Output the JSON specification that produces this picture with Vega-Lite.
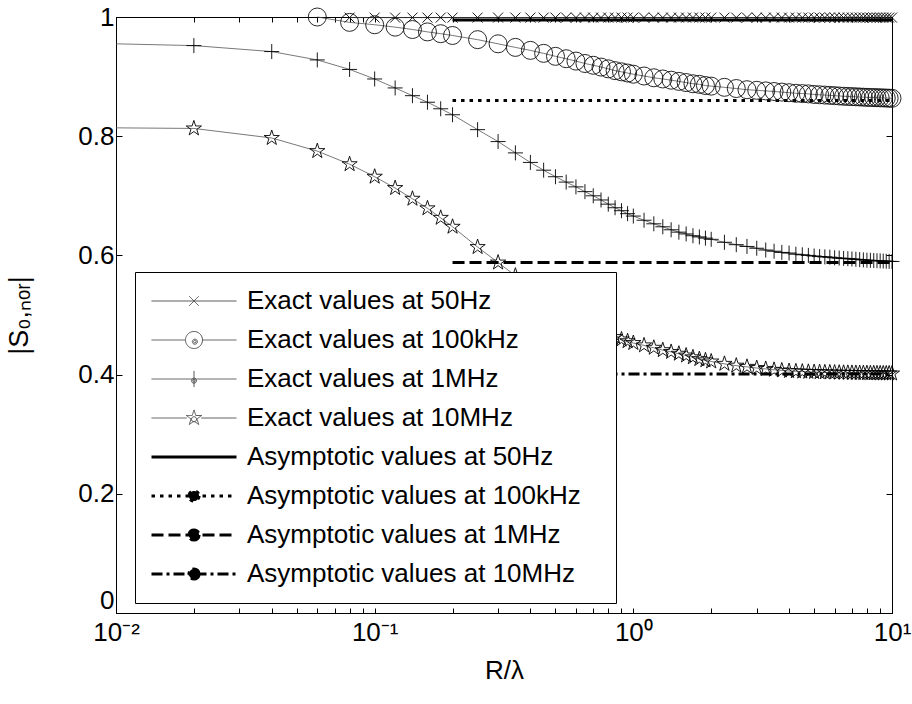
{
"$schema":"https://vega.github.io/schema/vega-lite/v6.json",
"width":776,"height":596,
"autosize":{"type":"none"},
"padding":{"left":116,"top":17,"right":20,"bottom":91},
"background":"white",
"config":{"view":{"stroke":"black","strokeWidth":1},"font":"Liberation Sans",
 "axis":{"labelFont":"Liberation Sans","titleFont":"Liberation Sans","labelColor":"black","titleColor":"black","domainColor":"black","tickColor":"black","grid":false,"titleFontWeight":"normal"}},
"data":{"values":[
{"s":"E50","x":0.08,"y":0.999},{"s":"E50","x":0.1,"y":0.999},{"s":"E50","x":0.12,"y":0.999},{"s":"E50","x":0.14,"y":0.999},{"s":"E50","x":0.16,"y":0.999},{"s":"E50","x":0.18,"y":0.999},{"s":"E50","x":0.2,"y":0.999},{"s":"E50","x":0.25,"y":0.999},{"s":"E50","x":0.3,"y":0.999},{"s":"E50","x":0.35,"y":0.999},{"s":"E50","x":0.4,"y":0.999},{"s":"E50","x":0.45,"y":0.999},{"s":"E50","x":0.5,"y":0.999},{"s":"E50","x":0.55,"y":0.999},{"s":"E50","x":0.6,"y":0.999},{"s":"E50","x":0.65,"y":0.999},{"s":"E50","x":0.7,"y":0.999},{"s":"E50","x":0.75,"y":0.999},{"s":"E50","x":0.8,"y":0.999},{"s":"E50","x":0.85,"y":0.999},{"s":"E50","x":0.9,"y":0.999},{"s":"E50","x":0.95,"y":0.999},{"s":"E50","x":1,"y":0.999},{"s":"E50","x":1.1,"y":0.999},{"s":"E50","x":1.2,"y":0.999},{"s":"E50","x":1.3,"y":0.999},{"s":"E50","x":1.4,"y":0.999},{"s":"E50","x":1.5,"y":0.999},{"s":"E50","x":1.6,"y":0.999},{"s":"E50","x":1.7,"y":0.999},{"s":"E50","x":1.8,"y":0.999},{"s":"E50","x":1.9,"y":0.999},{"s":"E50","x":2,"y":0.999},{"s":"E50","x":2.25,"y":0.999},{"s":"E50","x":2.5,"y":0.999},{"s":"E50","x":2.75,"y":0.999},{"s":"E50","x":3,"y":0.999},{"s":"E50","x":3.25,"y":0.999},{"s":"E50","x":3.5,"y":0.999},{"s":"E50","x":3.75,"y":0.999},{"s":"E50","x":4,"y":0.999},{"s":"E50","x":4.25,"y":0.999},{"s":"E50","x":4.5,"y":0.999},{"s":"E50","x":4.75,"y":0.999},{"s":"E50","x":5,"y":0.999},{"s":"E50","x":5.25,"y":0.999},{"s":"E50","x":5.5,"y":0.999},{"s":"E50","x":5.75,"y":0.999},{"s":"E50","x":6,"y":0.999},{"s":"E50","x":6.25,"y":0.999},{"s":"E50","x":6.5,"y":0.999},{"s":"E50","x":6.75,"y":0.999},{"s":"E50","x":7,"y":0.999},{"s":"E50","x":7.25,"y":0.999},{"s":"E50","x":7.5,"y":0.999},{"s":"E50","x":7.75,"y":0.999},{"s":"E50","x":8,"y":0.999},{"s":"E50","x":8.25,"y":0.999},{"s":"E50","x":8.5,"y":0.999},{"s":"E50","x":8.75,"y":0.999},{"s":"E50","x":9,"y":0.999},{"s":"E50","x":9.25,"y":0.999},{"s":"E50","x":9.5,"y":0.999},{"s":"E50","x":9.75,"y":0.999},{"s":"E50","x":10,"y":0.999},
{"s":"E100k","x":0.06,"y":1.0},{"s":"E100k","x":0.08,"y":0.991},{"s":"E100k","x":0.1,"y":0.987},{"s":"E100k","x":0.12,"y":0.983},{"s":"E100k","x":0.14,"y":0.979},{"s":"E100k","x":0.16,"y":0.975},{"s":"E100k","x":0.18,"y":0.972},{"s":"E100k","x":0.2,"y":0.969},{"s":"E100k","x":0.25,"y":0.962},{"s":"E100k","x":0.3,"y":0.955},{"s":"E100k","x":0.35,"y":0.949},{"s":"E100k","x":0.4,"y":0.944},{"s":"E100k","x":0.45,"y":0.939},{"s":"E100k","x":0.5,"y":0.934},{"s":"E100k","x":0.55,"y":0.93},{"s":"E100k","x":0.6,"y":0.926},{"s":"E100k","x":0.65,"y":0.922},{"s":"E100k","x":0.7,"y":0.919},{"s":"E100k","x":0.75,"y":0.916},{"s":"E100k","x":0.8,"y":0.913},{"s":"E100k","x":0.85,"y":0.91},{"s":"E100k","x":0.9,"y":0.908},{"s":"E100k","x":0.95,"y":0.906},{"s":"E100k","x":1,"y":0.904},{"s":"E100k","x":1.1,"y":0.901},{"s":"E100k","x":1.2,"y":0.898},{"s":"E100k","x":1.3,"y":0.896},{"s":"E100k","x":1.4,"y":0.894},{"s":"E100k","x":1.5,"y":0.892},{"s":"E100k","x":1.6,"y":0.89},{"s":"E100k","x":1.7,"y":0.888},{"s":"E100k","x":1.8,"y":0.887},{"s":"E100k","x":1.9,"y":0.885},{"s":"E100k","x":2,"y":0.884},{"s":"E100k","x":2.25,"y":0.882},{"s":"E100k","x":2.5,"y":0.88},{"s":"E100k","x":2.75,"y":0.878},{"s":"E100k","x":3,"y":0.877},{"s":"E100k","x":3.25,"y":0.876},{"s":"E100k","x":3.5,"y":0.875},{"s":"E100k","x":3.75,"y":0.874},{"s":"E100k","x":4,"y":0.873},{"s":"E100k","x":4.25,"y":0.872},{"s":"E100k","x":4.5,"y":0.8715},{"s":"E100k","x":4.75,"y":0.871},{"s":"E100k","x":5,"y":0.87},{"s":"E100k","x":5.25,"y":0.8695},{"s":"E100k","x":5.5,"y":0.869},{"s":"E100k","x":5.75,"y":0.8685},{"s":"E100k","x":6,"y":0.868},{"s":"E100k","x":6.25,"y":0.8675},{"s":"E100k","x":6.5,"y":0.867},{"s":"E100k","x":6.75,"y":0.8667},{"s":"E100k","x":7,"y":0.8664},{"s":"E100k","x":7.25,"y":0.8661},{"s":"E100k","x":7.5,"y":0.8658},{"s":"E100k","x":7.75,"y":0.8655},{"s":"E100k","x":8,"y":0.8652},{"s":"E100k","x":8.25,"y":0.865},{"s":"E100k","x":8.5,"y":0.8648},{"s":"E100k","x":8.75,"y":0.8646},{"s":"E100k","x":9,"y":0.8644},{"s":"E100k","x":9.25,"y":0.8642},{"s":"E100k","x":9.5,"y":0.864},{"s":"E100k","x":9.75,"y":0.8638},{"s":"E100k","x":10,"y":0.8636},
{"s":"E1M","x":0.01,"y":0.955},{"s":"E1M","x":0.02,"y":0.952},{"s":"E1M","x":0.04,"y":0.942},{"s":"E1M","x":0.06,"y":0.928},{"s":"E1M","x":0.08,"y":0.912},{"s":"E1M","x":0.1,"y":0.896},{"s":"E1M","x":0.12,"y":0.881},{"s":"E1M","x":0.14,"y":0.868},{"s":"E1M","x":0.16,"y":0.857},{"s":"E1M","x":0.18,"y":0.846},{"s":"E1M","x":0.2,"y":0.836},{"s":"E1M","x":0.25,"y":0.811},{"s":"E1M","x":0.3,"y":0.791},{"s":"E1M","x":0.35,"y":0.772},{"s":"E1M","x":0.4,"y":0.756},{"s":"E1M","x":0.45,"y":0.743},{"s":"E1M","x":0.5,"y":0.732},{"s":"E1M","x":0.55,"y":0.723},{"s":"E1M","x":0.6,"y":0.715},{"s":"E1M","x":0.65,"y":0.707},{"s":"E1M","x":0.7,"y":0.7},{"s":"E1M","x":0.75,"y":0.693},{"s":"E1M","x":0.8,"y":0.686},{"s":"E1M","x":0.85,"y":0.68},{"s":"E1M","x":0.9,"y":0.675},{"s":"E1M","x":0.95,"y":0.67},{"s":"E1M","x":1,"y":0.666},{"s":"E1M","x":1.1,"y":0.659},{"s":"E1M","x":1.2,"y":0.653},{"s":"E1M","x":1.3,"y":0.648},{"s":"E1M","x":1.4,"y":0.643},{"s":"E1M","x":1.5,"y":0.639},{"s":"E1M","x":1.6,"y":0.636},{"s":"E1M","x":1.7,"y":0.633},{"s":"E1M","x":1.8,"y":0.631},{"s":"E1M","x":1.9,"y":0.629},{"s":"E1M","x":2,"y":0.627},{"s":"E1M","x":2.25,"y":0.622},{"s":"E1M","x":2.5,"y":0.618},{"s":"E1M","x":2.75,"y":0.615},{"s":"E1M","x":3,"y":0.612},{"s":"E1M","x":3.25,"y":0.609},{"s":"E1M","x":3.5,"y":0.607},{"s":"E1M","x":3.75,"y":0.605},{"s":"E1M","x":4,"y":0.604},{"s":"E1M","x":4.25,"y":0.602},{"s":"E1M","x":4.5,"y":0.601},{"s":"E1M","x":4.75,"y":0.6},{"s":"E1M","x":5,"y":0.599},{"s":"E1M","x":5.25,"y":0.598},{"s":"E1M","x":5.5,"y":0.5975},{"s":"E1M","x":5.75,"y":0.597},{"s":"E1M","x":6,"y":0.596},{"s":"E1M","x":6.25,"y":0.5955},{"s":"E1M","x":6.5,"y":0.595},{"s":"E1M","x":6.75,"y":0.5945},{"s":"E1M","x":7,"y":0.594},{"s":"E1M","x":7.25,"y":0.5935},{"s":"E1M","x":7.5,"y":0.593},{"s":"E1M","x":7.75,"y":0.5925},{"s":"E1M","x":8,"y":0.592},{"s":"E1M","x":8.25,"y":0.5917},{"s":"E1M","x":8.5,"y":0.5914},{"s":"E1M","x":8.75,"y":0.5911},{"s":"E1M","x":9,"y":0.5908},{"s":"E1M","x":9.25,"y":0.5905},{"s":"E1M","x":9.5,"y":0.5902},{"s":"E1M","x":9.75,"y":0.59},{"s":"E1M","x":10,"y":0.5898},
{"s":"E10M","x":0.01,"y":0.814},{"s":"E10M","x":0.02,"y":0.813},{"s":"E10M","x":0.04,"y":0.797},{"s":"E10M","x":0.06,"y":0.775},{"s":"E10M","x":0.08,"y":0.753},{"s":"E10M","x":0.1,"y":0.732},{"s":"E10M","x":0.12,"y":0.713},{"s":"E10M","x":0.14,"y":0.695},{"s":"E10M","x":0.16,"y":0.679},{"s":"E10M","x":0.18,"y":0.663},{"s":"E10M","x":0.2,"y":0.648},{"s":"E10M","x":0.25,"y":0.614},{"s":"E10M","x":0.3,"y":0.588},{"s":"E10M","x":0.35,"y":0.566},{"s":"E10M","x":0.4,"y":0.547},{"s":"E10M","x":0.45,"y":0.531},{"s":"E10M","x":0.5,"y":0.517},{"s":"E10M","x":0.55,"y":0.505},{"s":"E10M","x":0.6,"y":0.495},{"s":"E10M","x":0.65,"y":0.487},{"s":"E10M","x":0.7,"y":0.48},{"s":"E10M","x":0.75,"y":0.474},{"s":"E10M","x":0.8,"y":0.468},{"s":"E10M","x":0.85,"y":0.463},{"s":"E10M","x":0.9,"y":0.459},{"s":"E10M","x":0.95,"y":0.456},{"s":"E10M","x":1,"y":0.453},{"s":"E10M","x":1.1,"y":0.449},{"s":"E10M","x":1.2,"y":0.445},{"s":"E10M","x":1.3,"y":0.441},{"s":"E10M","x":1.4,"y":0.438},{"s":"E10M","x":1.5,"y":0.435},{"s":"E10M","x":1.6,"y":0.432},{"s":"E10M","x":1.7,"y":0.429},{"s":"E10M","x":1.8,"y":0.426},{"s":"E10M","x":1.9,"y":0.424},{"s":"E10M","x":2,"y":0.422},{"s":"E10M","x":2.25,"y":0.418},{"s":"E10M","x":2.5,"y":0.415},{"s":"E10M","x":2.75,"y":0.413},{"s":"E10M","x":3,"y":0.411},{"s":"E10M","x":3.25,"y":0.4095},{"s":"E10M","x":3.5,"y":0.408},{"s":"E10M","x":3.75,"y":0.407},{"s":"E10M","x":4,"y":0.406},{"s":"E10M","x":4.25,"y":0.4055},{"s":"E10M","x":4.5,"y":0.405},{"s":"E10M","x":4.75,"y":0.4046},{"s":"E10M","x":5,"y":0.4043},{"s":"E10M","x":5.25,"y":0.404},{"s":"E10M","x":5.5,"y":0.4038},{"s":"E10M","x":5.75,"y":0.4036},{"s":"E10M","x":6,"y":0.4034},{"s":"E10M","x":6.25,"y":0.4032},{"s":"E10M","x":6.5,"y":0.403},{"s":"E10M","x":6.75,"y":0.4029},{"s":"E10M","x":7,"y":0.4028},{"s":"E10M","x":7.25,"y":0.4027},{"s":"E10M","x":7.5,"y":0.4026},{"s":"E10M","x":7.75,"y":0.4025},{"s":"E10M","x":8,"y":0.4024},{"s":"E10M","x":8.25,"y":0.4023},{"s":"E10M","x":8.5,"y":0.4022},{"s":"E10M","x":8.75,"y":0.4021},{"s":"E10M","x":9,"y":0.402},{"s":"E10M","x":9.25,"y":0.402},{"s":"E10M","x":9.5,"y":0.4019},{"s":"E10M","x":9.75,"y":0.4019},{"s":"E10M","x":10,"y":0.4018},
{"s":"A50","x":0.2,"y":0.995},{"s":"A50","x":10,"y":0.995},
{"s":"A100k","x":0.2,"y":0.86},{"s":"A100k","x":10,"y":0.86},
{"s":"A1M","x":0.2,"y":0.588},{"s":"A1M","x":10,"y":0.588},
{"s":"A10M","x":0.2,"y":0.401},{"s":"A10M","x":10,"y":0.401}
]},
"layer":[
{"transform":[{"filter":"indexof(datum.s,'E')===0"}],
 "mark":{"type":"line","strokeWidth":0.8},
 "encoding":{
  "x":{"field":"x","type":"quantitative","scale":{"type":"log","domain":[0.01,10],"nice":false},
   "axis":{"orient":"bottom","values":[0.01,0.02,0.03,0.04,0.05,0.06,0.07,0.08,0.09,0.1,0.2,0.3,0.4,0.5,0.6,0.7,0.8,0.9,1,2,3,4,5,6,7,8,9,10],
    "labelExpr":"datum.value===0.01?'10⁻²':datum.value===0.1?'10⁻¹':datum.value===1?'10⁰':datum.value===10?'10¹':''",
    "labelFontSize":26,"labelOverlap":false,"labelFlush":false,"tickSize":-5,"labelPadding":11,"title":"R/λ","titleFontSize":26,"titlePadding":12}},
  "y":{"field":"y","type":"quantitative","scale":{"domain":[0,1],"nice":false,"zero":false},
   "axis":{"orient":"left","values":[0,0.2,0.4,0.6,0.8,1],"labelExpr":"datum.value===0?'0':datum.value===1?'1':format(datum.value,'.1f')",
    "labelBaseline":{"condition":{"test":"datum.value===0","value":"bottom"},"value":"middle"},
    "labelFontSize":26,"tickSize":-6,"labelPadding":8,"title":"|S₀,ₙₒᵣ|","titleFontSize":27,"titlePadding":44}},
  "color":{"field":"s","type":"nominal",
   "scale":{"domain":["E50","E100k","E1M","E10M","A50","A100k","A1M","A10M"],"range":["#444444","#555555","#555555","#555555","#000000","#000000","#000000","#000000"]},
   "legend":{"orient":"none","legendX":19,"legendY":255,"title":null,"padding":16,"rowPadding":13,
    "fillColor":"white","strokeColor":"black","symbolSize":7225,"symbolOffset":30,"labelFontSize":26,"labelFont":"Liberation Sans","labelColor":"black","labelOffset":40,"labelLimit":1000,
    "labelExpr":"({'E50':'Exact values at 50Hz','E100k':'Exact values at 100kHz','E1M':'Exact values at 1MHz','E10M':'Exact values at 10MHz','A50':'Asymptotic values at 50Hz','A100k':'Asymptotic values at 100kHz','A1M':'Asymptotic values at 1MHz','A10M':'Asymptotic values at 10MHz'})[datum.label] + '\u2800'",
    "encode":{"symbols":{"update":{
     "shape":{"signal":"['M-1,0H1M-0.11,-0.11L0.11,0.11M-0.11,0.11L0.11,-0.11','M-1,0H-0.2M0.2,0H1M0.2,0A0.2,0.2,0,1,1,-0.2,0A0.2,0.2,0,1,1,0.2,0M0.08,0.04A0.06,0.06,0,1,1,-0.04,0.04A0.06,0.06,0,1,1,0.08,0.04M0.05,0.04A0.03,0.03,0,1,1,-0.01,0.04A0.03,0.03,0,1,1,0.05,0.04','M-1,0H1M0,-0.19V0.19M0.06,0.04A0.06,0.06,0,1,1,-0.06,0.04A0.06,0.06,0,1,1,0.06,0.04M0.03,0.04A0.03,0.03,0,1,1,-0.03,0.04A0.03,0.03,0,1,1,0.03,0.04','M-1,0H-0.17M0.17,0H1M0,-0.19L0.0427,-0.0587L0.1807,-0.0587L0.069,0.0224L0.1117,0.1537L0,0.0726L-0.1117,0.1537L-0.069,0.0224L-0.1807,-0.0587L-0.0427,-0.0587ZM0.06,0.03A0.06,0.06,0,1,1,-0.06,0.03A0.06,0.06,0,1,1,0.06,0.03','M-1,0H1','M-1,0H1M0.12,0A0.12,0.12,0,1,1,-0.12,0A0.12,0.12,0,1,1,0.12,0','M-1,0H1M0.12,0A0.12,0.12,0,1,1,-0.12,0A0.12,0.12,0,1,1,0.12,0','M-1,0H1M0.12,0A0.12,0.12,0,1,1,-0.12,0A0.12,0.12,0,1,1,0.12,0'][datum.index]"},
     "strokeWidth":{"signal":"datum.index<4?1:3"},
     "stroke":{"value":"black"},
     "fill":{"signal":"datum.index<4?'transparent':'black'"},
     "strokeDash":{"signal":"[[1,0],[1,0],[1,0],[1,0],[1,0],[3.5,5],[12,5],[11,4,3,4]][datum.index]"},
     "opacity":{"value":1}
    }}}
   }}
 }},
{"transform":[{"filter":"indexof(datum.s,'A')===0"}],
 "mark":{"type":"line","strokeWidth":3,"color":"black"},
 "encoding":{
  "x":{"field":"x","type":"quantitative","axis":null},
  "y":{"field":"y","type":"quantitative","axis":null},
  "strokeDash":{"field":"s","type":"nominal","legend":null,
   "scale":{"domain":["A50","A100k","A1M","A10M"],"range":[[1,0],[3.5,5],[12,5],[11,4,3,4]]}}
 }},
{"transform":[{"filter":"datum.s==='E50'"}],
 "mark":{"type":"point","shape":"M-1,-1L1,1M-1,1L1,-1","size":100,"filled":false,"color":"black","strokeWidth":0.9,"opacity":1},
 "encoding":{"x":{"field":"x","type":"quantitative","axis":null},"y":{"field":"y","type":"quantitative","axis":null}}},
{"transform":[{"filter":"datum.s==='E100k'"}],
 "mark":{"type":"point","shape":"circle","size":324,"filled":false,"color":"#111111","strokeWidth":0.9,"opacity":1},
 "encoding":{"x":{"field":"x","type":"quantitative","axis":null},"y":{"field":"y","type":"quantitative","axis":null}}},
{"transform":[{"filter":"datum.s==='E1M' && datum.x>0.015"}],
 "mark":{"type":"point","shape":"M-1,0H1M0,-1V1","size":225,"filled":false,"color":"black","strokeWidth":0.9,"opacity":1},
 "encoding":{"x":{"field":"x","type":"quantitative","axis":null},"y":{"field":"y","type":"quantitative","axis":null}}},
{"transform":[{"filter":"datum.s==='E10M' && datum.x>0.015"}],
 "mark":{"type":"point","shape":"M0,-1L0.2245,-0.309L0.951,-0.309L0.363,0.118L0.588,0.809L0,0.382L-0.588,0.809L-0.363,0.118L-0.951,-0.309L-0.2245,-0.309Z","size":256,"filled":false,"color":"black","strokeWidth":0.9,"opacity":1},
 "encoding":{"x":{"field":"x","type":"quantitative","axis":null},"y":{"field":"y","type":"quantitative","axis":null}}},
{"mark":{"type":"point","opacity":0},
 "encoding":{
  "x":{"field":"x","type":"quantitative","axis":{"orient":"top","values":[0.01,0.02,0.03,0.04,0.05,0.06,0.07,0.08,0.09,0.1,0.2,0.3,0.4,0.5,0.6,0.7,0.8,0.9,1,2,3,4,5,6,7,8,9,10],"labels":false,"title":null,"tickSize":-5}},
  "y":{"field":"y","type":"quantitative","axis":{"orient":"right","values":[0,0.2,0.4,0.6,0.8,1],"labels":false,"title":null,"tickSize":-6}}
 }}
],
"resolve":{"axis":{"x":"independent","y":"independent"}}
}
